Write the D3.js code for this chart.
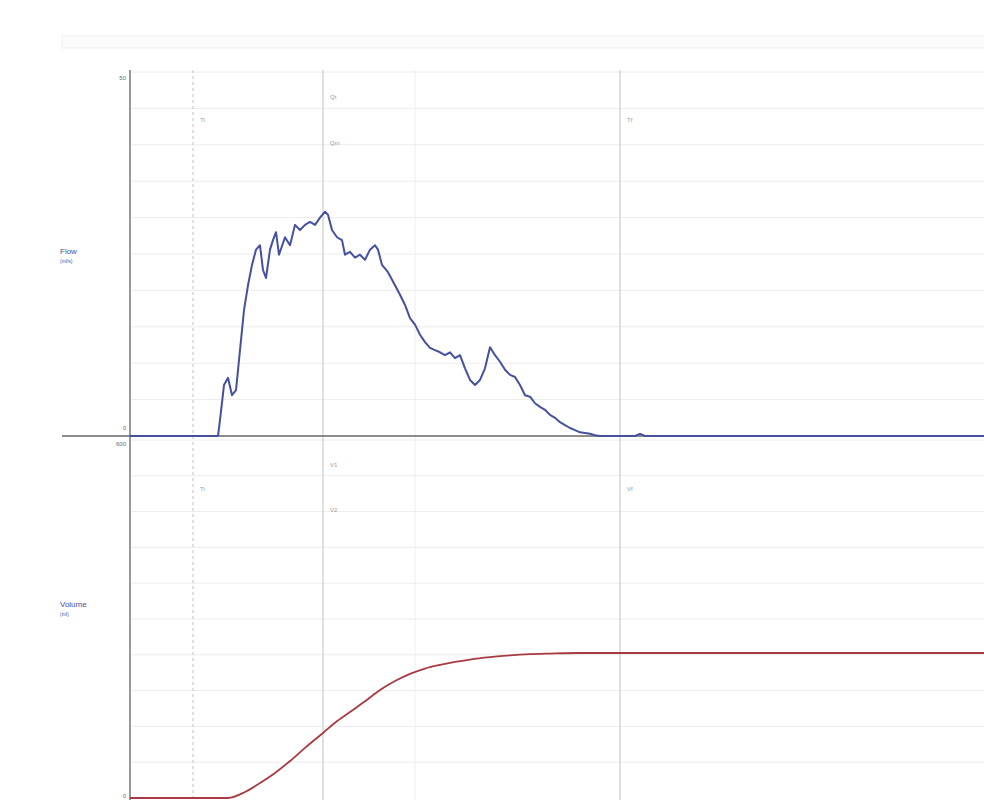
<!DOCTYPE html>
<html>
<head>
<meta charset="utf-8">
<script src="https://cdn.jsdelivr.net/npm/d3@7"></script>
<style>
  body { margin: 0; background: white; }
  svg { display: block; }
</style>
</head>
<body>
<svg id="chart" width="984" height="800"></svg>
<script>
// time in seconds
var flowTime = [0, 8.8, 9.0, 9.4, 9.8, 10.2, 10.6, 11.0, 11.4, 11.8, 12.2, 12.6, 13.0, 13.3, 13.6, 14.0, 14.3, 14.6, 14.9, 15.5, 16.0,
  16.5, 17.0, 17.5, 18.0, 18.5, 19.0, 19.5, 19.8, 20.2, 20.7, 21.2, 21.5, 22.0, 22.5, 23.0, 23.5, 24.0, 24.5, 24.8, 25.2,
  25.8, 26.5, 27.0, 27.5, 28.0, 28.5, 29.0, 29.5, 30.0, 30.5, 31.0, 31.5, 32.0, 32.5, 33.0, 33.5, 34.0, 34.5, 35.0, 35.5,
  36.0, 36.5, 37.0, 37.5, 38.0, 38.5, 39.0, 39.5, 40.0, 40.5, 41.0, 41.5, 42.0, 42.5, 43.0, 43.5, 44.0, 44.5, 45.0, 45.5,
  46.0, 46.5, 47.0, 50.5, 51.0, 51.5, 85.5];
// ml/s
var flowValues = [0, 0, 2.2, 7.0, 8.0, 5.6, 6.3, 11.8, 17.3, 20.7, 23.5, 25.6, 26.2, 22.8, 21.7, 25.6, 26.9, 28.0, 24.9, 27.3, 26.2,
  29.0, 28.3, 29.0, 29.4, 29.0, 30.0, 30.8, 30.4, 28.3, 27.3, 26.9, 24.9, 25.3, 24.5, 24.9, 24.2, 25.6, 26.2, 25.6, 23.5,
  22.5, 20.7, 19.4, 18.0, 16.2, 15.3, 13.9, 12.9, 12.1, 11.8, 11.5, 11.1, 11.5, 10.7, 11.1, 9.3, 7.7, 7.0, 7.7, 9.3,
  12.2, 11.1, 10.2, 9.1, 8.4, 8.1, 7.0, 5.6, 5.4, 4.5, 4.0, 3.6, 2.9, 2.5, 1.9, 1.5, 1.1, 0.8, 0.5, 0.4,
  0.3, 0.1, 0, 0, 0.3, 0, 0];

var volumeTime = [0, 9.8, 11.5, 13.0, 14.5, 16.0, 17.5, 19.3, 20.5, 22.0, 23.5, 25.0, 26.5, 28.0, 29.5, 31.0, 32.5, 34.0, 36.0, 38.0, 40.0, 42.0, 45.0, 49.0, 85.5];
// ml
var volumeValues = [0, 0, 10, 25, 42, 62, 84, 109, 126, 144, 162, 181, 196, 208, 217, 223, 228, 232, 236, 239, 241, 242, 243, 243, 243];

var flowTicks = [0, 50];
var volumeTicks = [0, 600];

// event markers (time, style)
var markerTimes = [6.3, 19.3, 28.5, 49.0];
var markerStyles = ["dash", "solid", "faint", "solid"];
var markerLabels = [["Ti", ""], ["Qt", "Qm"], ["", ""], ["Tf", ""]];
var volumeMarkerLabels = [["Ti", ""], ["V1", "V2"], ["", ""], ["Vf", ""]];

var flowColor = "#45509e";
var volumeColor = "#a83a42";

function drawChart() {
  const svg = d3.select("#chart");

  const x = d3.scaleLinear().domain([0, 85.4]).range([130, 984]);
  const yFlow = d3.scaleLinear().domain([0, 50]).range([436, 72]);
  const yVol = d3.scaleLinear().domain([0, 600]).range([798, 440]);

  // faint header band
  svg.append("rect")
    .attr("x", 62).attr("y", 36).attr("width", 940).attr("height", 12)
    .attr("fill", "#fcfcfc")
    .attr("stroke", "#eeeeee");

  // horizontal grid, flow panel
  svg.selectAll(".flowGrid")
    .data(d3.range(5, 50.1, 5))
    .enter()
    .append("line")
    .attr("x1", 130).attr("x2", 984)
    .attr("y1", d => yFlow(d)).attr("y2", d => yFlow(d))
    .attr("stroke", "#ececec")
    .attr("stroke-width", 1);

  // horizontal grid, volume panel
  svg.selectAll(".volGrid")
    .data(d3.range(60, 600.1, 60))
    .enter()
    .append("line")
    .attr("x1", 130).attr("x2", 984)
    .attr("y1", d => yVol(d)).attr("y2", d => yVol(d))
    .attr("stroke", "#ececec")
    .attr("stroke-width", 1);

  // event markers
  markerTimes.forEach(function (t, i) {
    const style = markerStyles[i];
    svg.append("line")
      .attr("x1", x(t)).attr("x2", x(t))
      .attr("y1", 70).attr("y2", 800)
      .attr("stroke", style == "faint" ? "#eeeeee" : "#cccccc")
      .attr("stroke-width", style == "faint" ? 1 : 1.2)
      .attr("stroke-dasharray", style == "dash" ? "3,3" : null);

    markerLabels[i].forEach(function (lbl, j) {
      svg.append("text")
        .attr("x", x(t) + 7)
        .attr("y", j == 0 ? (i == 1 ? 99 : 122) : 145)
        .text(lbl)
        .attr("fill", "#999")
        .attr("font-family", "Arial, sans-serif")
        .attr("font-size", "6px");
    });
    volumeMarkerLabels[i].forEach(function (lbl, j) {
      svg.append("text")
        .attr("x", x(t) + 7)
        .attr("y", j == 0 ? (i == 1 ? 467 : 491) : 512)
        .text(lbl)
        .attr("fill", "#999")
        .attr("font-family", "Arial, sans-serif")
        .attr("font-size", "6px");
    });
  });

  // y axis line
  svg.append("line")
    .attr("x1", 130).attr("x2", 130)
    .attr("y1", 70).attr("y2", 800)
    .attr("stroke", "#999")
    .attr("stroke-width", 2);

  // baseline between panels
  svg.append("line")
    .attr("x1", 62).attr("x2", 984)
    .attr("y1", yFlow(0)).attr("y2", yFlow(0))
    .attr("stroke", "#666")
    .attr("stroke-width", 1.5);

  // tick labels
  svg.selectAll(".flowTick")
    .data(flowTicks)
    .enter()
    .append("text")
    .attr("x", 126)
    .attr("y", d => d == 0 ? yFlow(d) - 6 : yFlow(d) + 8)
    .attr("text-anchor", "end")
    .text(d => d)
    .attr("fill", "#666")
    .attr("font-family", "Arial, sans-serif")
    .attr("font-size", "6px");

  svg.selectAll(".volTick")
    .data(volumeTicks)
    .enter()
    .append("text")
    .attr("x", 126)
    .attr("y", d => d == 0 ? yVol(d) : yVol(d) + 6)
    .attr("text-anchor", "end")
    .text(d => d)
    .attr("fill", "#666")
    .attr("font-family", "Arial, sans-serif")
    .attr("font-size", "6px");

  // panel titles
  const titles = [["Flow", "(ml/s)", 254], ["Volume", "(ml)", 607]];
  titles.forEach(function (t) {
    svg.append("text")
      .attr("x", 60).attr("y", t[2])
      .text(t[0])
      .attr("fill", flowColor)
      .attr("font-family", "Arial, sans-serif")
      .attr("font-size", "8px");
    svg.append("text")
      .attr("x", 60).attr("y", t[2] + 9)
      .text(t[1])
      .attr("fill", flowColor)
      .attr("font-family", "Arial, sans-serif")
      .attr("font-size", "5px");
  });

  // flow curve
  const flowLine = d3.line()
    .x((d, i) => x(flowTime[i]))
    .y(d => yFlow(d));

  svg.append("path")
    .attr("d", flowLine(flowValues))
    .attr("stroke", flowColor)
    .attr("stroke-width", 2)
    .attr("stroke-linejoin", "round")
    .attr("fill", "none");

  // volume curve
  const volLine = d3.line()
    .x((d, i) => x(volumeTime[i]))
    .y(d => yVol(d))
    .curve(d3.curveMonotoneX);

  svg.append("path")
    .attr("d", volLine(volumeValues))
    .attr("stroke", volumeColor)
    .attr("stroke-width", 1.8)
    .attr("fill", "none");
}

drawChart();
</script>
</body>
</html>
